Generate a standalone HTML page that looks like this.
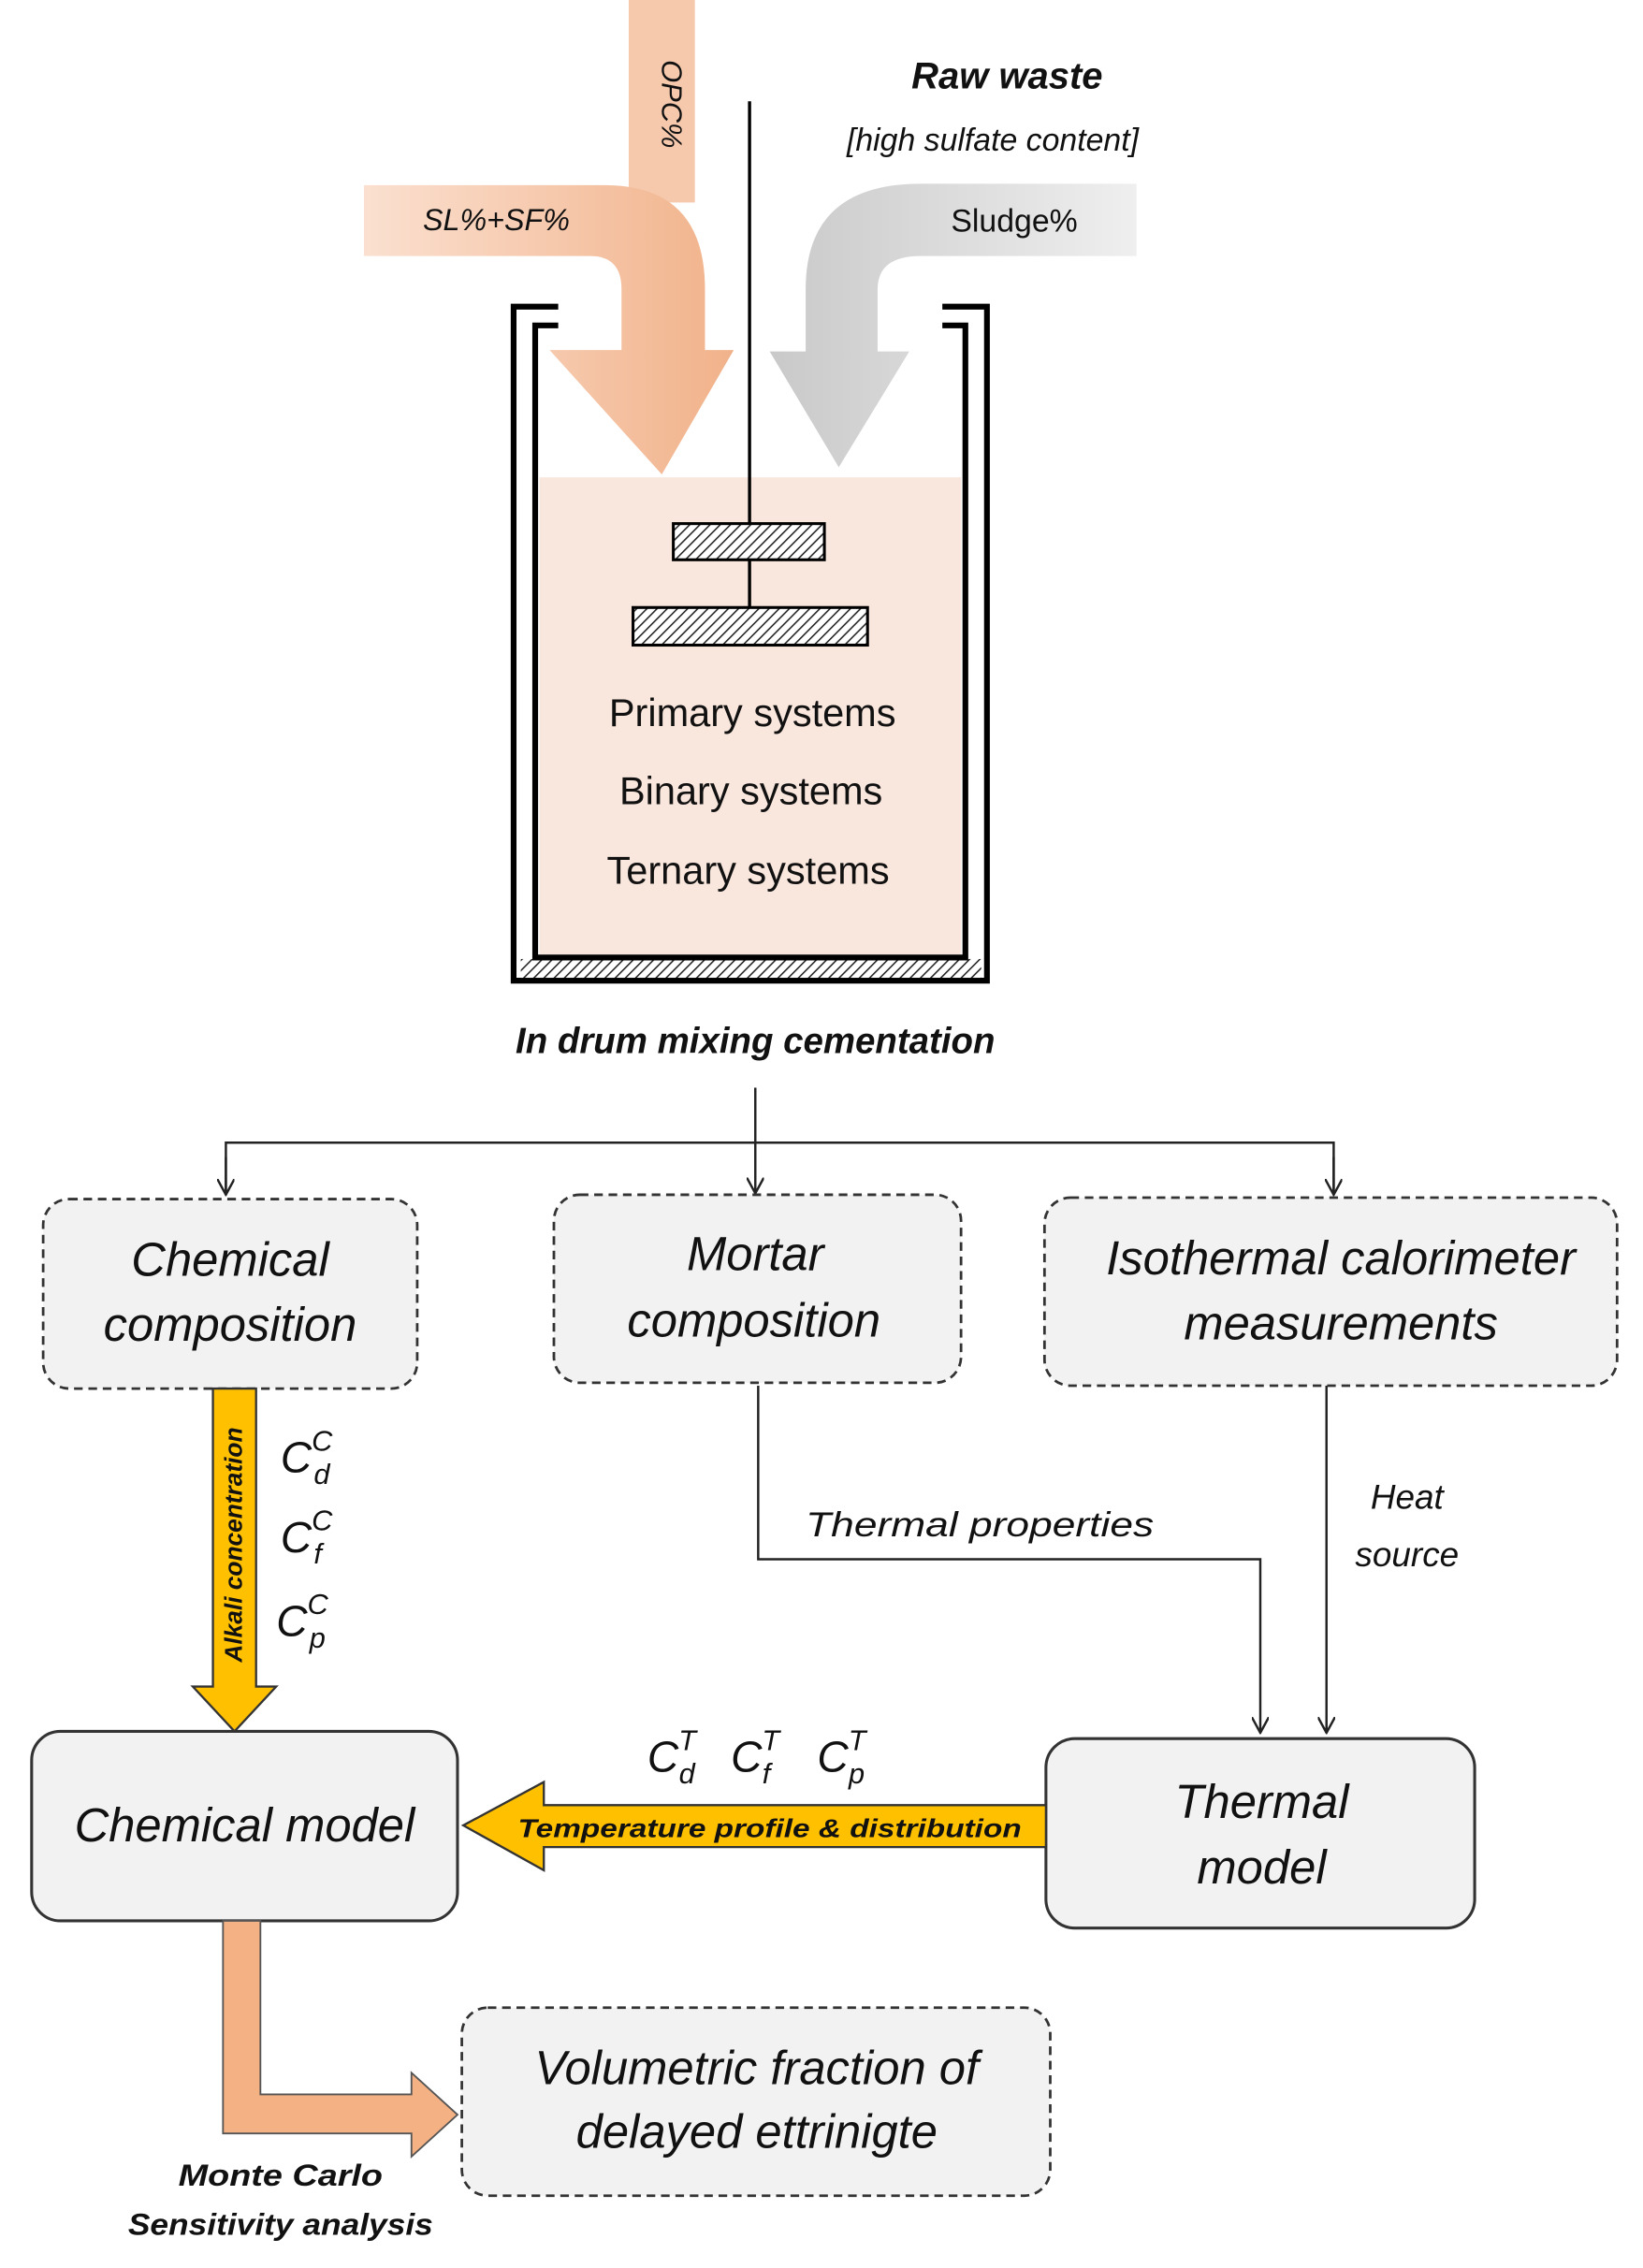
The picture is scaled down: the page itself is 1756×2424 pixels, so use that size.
<!DOCTYPE html>
<html><head><meta charset="utf-8"><style>
html,body{margin:0;padding:0;background:#fff}
svg{display:block}
text{font-family:"Liberation Sans",sans-serif;fill:#111}
</style></head><body>
<svg width="1756" height="2424" viewBox="0 0 1142 1568" preserveAspectRatio="none" xmlns="http://www.w3.org/2000/svg">
<defs>
<linearGradient id="og" x1="0" x2="1" y1="0" y2="0"><stop offset="0" stop-color="#fbe0d0"/><stop offset="1" stop-color="#f1b28a"/></linearGradient>
<linearGradient id="gg" x1="1" x2="0" y1="0" y2="0"><stop offset="0" stop-color="#efefef"/><stop offset="1" stop-color="#c9c9c9"/></linearGradient>
<pattern id="hatch" width="5" height="5" patternUnits="userSpaceOnUse" patternTransform="rotate(45)"><rect width="5" height="5" fill="#fff"/><line x1="0" y1="0" x2="0" y2="5" stroke="#222" stroke-width="2"/></pattern>
<marker id="ar" markerWidth="12" markerHeight="12" refX="11" refY="6" orient="auto" markerUnits="userSpaceOnUse"><path d="M0,0 L11,6 L0,12" fill="none" stroke="#222" stroke-width="1.6"/></marker>
</defs>

<rect x="437" y="0" width="46" height="140" fill="#f6c9ad"/>
<path d="M253,128 H420 Q490,128 490,200 V242 H510 L460,328 L382,242 H432 V200 Q432,177 410,177 H253 Z" fill="url(#og)"/>
<text x="460" y="72" font-size="20" font-style="italic" transform="rotate(90 460 72)" text-anchor="middle">OPC%</text>
<text x="345" y="159" font-size="21" font-style="italic" text-anchor="middle">SL%+SF%</text>
<path d="M790,127 H640 Q560,127 560,200 V243 H535 L583,323 L632,243 H610 V200 Q610,177 640,177 H790 Z" fill="url(#gg)"/>
<text x="705" y="160" font-size="22" text-anchor="middle">Sludge%</text>

<text x="700" y="61" font-size="26" font-weight="bold" font-style="italic" text-anchor="middle">Raw waste</text>
<text x="690" y="104" font-size="22" font-style="italic" text-anchor="middle">[high sulfate content]</text>

<rect x="375" y="330" width="293" height="330" fill="#f9e6dc"/>
<path d="M388,212 H357 V678 H686 V212 H655" fill="none" stroke="#000" stroke-width="4"/>
<rect x="362" y="663" width="320" height="13" fill="url(#hatch)"/>
<path d="M388,225 H372 V662 H671 V225 H655" fill="none" stroke="#000" stroke-width="4"/>
<line x1="521" y1="70" x2="521" y2="420" stroke="#000" stroke-width="2.2"/>
<rect x="468" y="362" width="105" height="25" fill="url(#hatch)" stroke="#000" stroke-width="2"/>
<rect x="440" y="420" width="163" height="26" fill="url(#hatch)" stroke="#000" stroke-width="2"/>
<text x="523" y="502" font-size="27" text-anchor="middle">Primary systems</text>
<text x="522" y="556" font-size="27" text-anchor="middle">Binary systems</text>
<text x="520" y="611" font-size="27" text-anchor="middle">Ternary systems</text>
<text x="525" y="728" font-size="25" font-weight="bold" font-style="italic" text-anchor="middle">In drum mixing cementation</text>

<g stroke="#222" stroke-width="1.6" fill="none">
<line x1="525" y1="752" x2="525" y2="825" marker-end="url(#ar)"/>
<path d="M157,825 V790 H927 V825"/>
<line x1="157" y1="800" x2="157" y2="826" marker-end="url(#ar)"/>
<line x1="927" y1="800" x2="927" y2="826" marker-end="url(#ar)"/>
<path d="M527,958 V1078 H876 V1198" marker-end="url(#ar)"/>
<line x1="922" y1="958" x2="922" y2="1198" marker-end="url(#ar)"/>
</g>

<g fill="#f2f2f2" stroke="#333" stroke-width="1.8" stroke-dasharray="6,4">
<rect x="30" y="829" width="260" height="131" rx="18"/>
<rect x="385" y="826" width="283" height="130" rx="18"/>
<rect x="726" y="828" width="398" height="130" rx="18"/>
<rect x="321" y="1388" width="409" height="130" rx="18"/>
</g>
<g font-size="33" font-style="italic" text-anchor="middle">
<text x="160" y="882">Chemical</text>
<text x="160" y="927">composition</text>
<text x="525" y="878">Mortar</text>
<text x="524" y="924">composition</text>
<text x="932" y="881">Isothermal calorimeter</text>
<text x="932" y="926">measurements</text>
<text x="526" y="1441">Volumetric fraction of</text>
<text x="526" y="1485">delayed ettrinigte</text>
</g>

<rect x="22" y="1197" width="296" height="131" rx="20" fill="#f2f2f2" stroke="#333" stroke-width="2"/>
<rect x="727" y="1202" width="298" height="131" rx="20" fill="#f2f2f2" stroke="#333" stroke-width="2"/>
<g font-size="33" font-style="italic" text-anchor="middle">
<text x="170" y="1273">Chemical model</text>
<text x="877" y="1257">Thermal</text>
<text x="877" y="1302">model</text>
</g>

<path d="M148,960 H178 V1166 H192 L163,1197 L134,1166 H148 Z" fill="#ffc000" stroke="#333" stroke-width="1.5"/>
<text x="170" y="1070" font-size="17" font-weight="bold" font-style="italic" text-anchor="middle" transform="rotate(-90 168 1070)">Alkali concentration</text>
<g font-family="Liberation Serif" font-style="italic" font-size="30">
<text x="195" y="1018">C<tspan font-size="20" dy="-15">C</tspan><tspan font-size="20" dx="-13" dy="23">d</tspan></text>
<text x="195" y="1073">C<tspan font-size="20" dy="-15">C</tspan><tspan font-size="20" dx="-13" dy="23">f</tspan></text>
<text x="192" y="1131">C<tspan font-size="20" dy="-15">C</tspan><tspan font-size="20" dx="-13" dy="23">p</tspan></text>
<text x="450" y="1225">C<tspan font-size="20" dy="-15">T</tspan><tspan font-size="20" dx="-12" dy="23">d</tspan></text>
<text x="508" y="1225">C<tspan font-size="20" dy="-15">T</tspan><tspan font-size="20" dx="-12" dy="23">f</tspan></text>
<text x="568" y="1225">C<tspan font-size="20" dy="-15">T</tspan><tspan font-size="20" dx="-12" dy="23">p</tspan></text>
</g>

<path d="M727,1248 H378 V1232 L322,1262 L378,1293 V1277 H727 Z" fill="#ffc000" stroke="#333" stroke-width="1.5"/>
<text x="535" y="1270" font-size="18" font-weight="bold" font-style="italic" text-anchor="middle" textLength="350" lengthAdjust="spacingAndGlyphs">Temperature profile &amp; distribution</text>

<text x="560" y="1062" font-size="24" font-style="italic" textLength="242" lengthAdjust="spacingAndGlyphs">Thermal properties</text>
<text x="978" y="1043" font-size="24" font-style="italic" text-anchor="middle">Heat</text>
<text x="978" y="1083" font-size="24" font-style="italic" text-anchor="middle">source</text>

<path d="M155,1328 H181 V1448 H286 V1433 L318,1462 L286,1491 V1475 H155 Z" fill="#f4b183" stroke="#555" stroke-width="1.2"/>
<text x="195" y="1511" font-size="21" font-weight="bold" font-style="italic" text-anchor="middle" textLength="142" lengthAdjust="spacingAndGlyphs">Monte Carlo</text>
<text x="195" y="1545" font-size="21" font-weight="bold" font-style="italic" text-anchor="middle" textLength="212" lengthAdjust="spacingAndGlyphs">Sensitivity analysis</text>
</svg>
</body></html>
